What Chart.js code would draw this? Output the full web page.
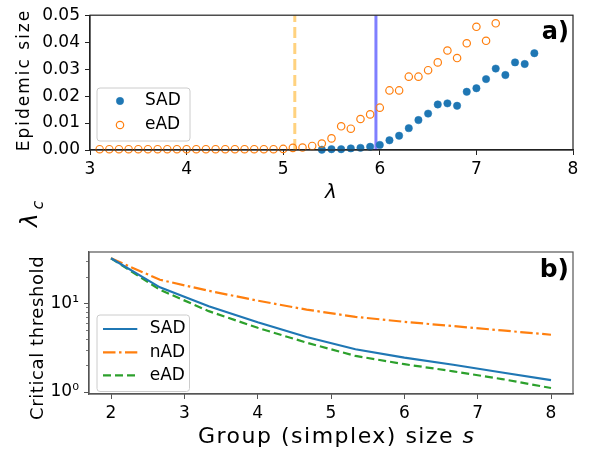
<!DOCTYPE html>
<html><head><meta charset="utf-8">
<script src="https://cdn.jsdelivr.net/npm/chart.js@4.4.1/dist/chart.umd.min.js"></script>
<style>
html,body{margin:0;padding:0;background:#fff;width:601px;height:455px;overflow:hidden;position:relative}
canvas{position:absolute;left:0}
#c1{top:0}
#c2{top:190px}
</style></head><body>
<canvas id="c1" width="601" height="205"></canvas>
<canvas id="c2" width="601" height="265"></canvas>
<script>
// ---------- Panel a) data ----------
const lambdaSAD = [5.4,5.5,5.6,5.7,5.8,5.9,6.0,6.1,6.2,6.3,6.4,6.5,6.6,6.7,6.8,6.9,7.0,7.1,7.2,7.3,7.4,7.5,7.6];
const epidemicSAD = [0.0001,0.0003,0.0003,0.0006,0.0008,0.0012,0.0019,0.0036,0.0053,0.0081,0.0111,0.0135,0.0169,0.0173,0.0164,0.0216,0.0229,0.0263,0.0302,0.0278,0.0325,0.0319,0.0359];
const lambdaEAD = [3.1,3.2,3.3,3.4,3.5,3.6,3.7,3.8,3.9,4.0,4.1,4.2,4.3,4.4,4.5,4.6,4.7,4.8,4.9,5.0,5.1,5.2,5.3,5.4,5.5,5.6,5.7,5.8,5.9,6.0,6.1,6.2,6.3,6.4,6.5,6.6,6.7,6.8,6.9,7.0,7.1,7.2];
const epidemicEAD = [0.0003,0.0003,0.0003,0.0003,0.0003,0.0003,0.0003,0.0003,0.0003,0.0003,0.0003,0.0003,0.0003,0.0003,0.0003,0.0003,0.0003,0.0003,0.0003,0.0004,0.0008,0.0009,0.0015,0.0024,0.0043,0.0088,0.0079,0.0115,0.0132,0.0157,0.0221,0.0221,0.0272,0.0272,0.0296,0.0325,0.0369,0.0341,0.0396,0.0457,0.0405,0.0470];
const thresholdSAD = 5.96;
const thresholdEAD = 5.12;
const topXTicks = [3,4,5,6,7,8];
const topYTicks = [0,0.01,0.02,0.03,0.04,0.05];

// ---------- Panel b) data ----------
const groupSize = [2,2.667,3.333,4,4.667,5.333,6,6.667,7.333,8];
const criticalSAD = [32.1,15.1,9.25,6.1,4.17,3.03,2.44,2.03,1.66,1.36];
const criticalNAD = [32.1,18.4,13.8,10.7,8.48,7.03,6.18,5.53,4.94,4.42];
const criticalEAD = [32.1,14.2,8.15,5.29,3.6,2.55,2.06,1.71,1.40,1.11];
const bottomXTicks = [2,3,4,5,6,7,8];
const bottomYMajor = [1,10];
const bottomYMajorLabels = ['10\u2070','10\u00B9'];
const bottomYMinor = [2,3,4,5,6,7,8,9,20,30];

const FAM = "'DejaVu Sans'";
const BLUE = '#1f77b4', ORANGE = '#ff7f0e', GREEN = '#2ca02c';

function txt(ctx, o){
  ctx.save();
  ctx.font = o.font; ctx.fillStyle = o.color || '#000';
  ctx.letterSpacing = o.ls || '0px';
  ctx.textAlign = o.align || 'left';
  ctx.textBaseline = o.baseline || 'alphabetic';
  ctx.translate(o.x, o.y);
  if (o.rot) ctx.rotate(o.rot);
  ctx.fillText(o.text, 0, 0);
  let w = ctx.measureText(o.text).width;
  ctx.restore();
  if (o.after) {
    ctx.save(); ctx.font = o.font; ctx.letterSpacing = o.ls || '0px';
    ctx.restore();
    txt(ctx, Object.assign({}, o.after, {x: o.x + w + (o.after.dx || 0), y: o.y}));
  }
}
function rrect(ctx,x,y,w,h,r){
  ctx.beginPath();
  ctx.moveTo(x+r,y);ctx.lineTo(x+w-r,y);ctx.quadraticCurveTo(x+w,y,x+w,y+r);
  ctx.lineTo(x+w,y+h-r);ctx.quadraticCurveTo(x+w,y+h,x+w-r,y+h);
  ctx.lineTo(x+r,y+h);ctx.quadraticCurveTo(x,y+h,x,y+h-r);
  ctx.lineTo(x,y+r);ctx.quadraticCurveTo(x,y,x+r,y);ctx.closePath();
}

const decorPlugin = {
  id: 'decor',
  afterDraw(chart, args, o){
    const ctx = chart.ctx, a = chart.chartArea;
    ctx.save();
    ctx.strokeStyle = o.frameColor; ctx.lineWidth = 1.2;
    ctx.strokeRect(a.left, a.top, a.right - a.left, a.bottom - a.top);
    ctx.restore();
    if (o.minor) {
      const ys = chart.scales.y;
      ctx.save(); ctx.strokeStyle = o.frameColor; ctx.lineWidth = 0.8;
      o.minor.forEach(v => {
        const py = Math.round(ys.getPixelForValue(v)) + 0.5;
        ctx.beginPath(); ctx.moveTo(a.left - 3, py); ctx.lineTo(a.left, py); ctx.stroke();
      });
      ctx.restore();
    }
    const L = o.legend;
    ctx.save();
    rrect(ctx, a.left + L.x, a.bottom + L.y, L.w, L.h, 3);
    ctx.fillStyle = 'rgba(255,255,255,0.8)'; ctx.fill();
    ctx.strokeStyle = '#cccccc'; ctx.lineWidth = 1; ctx.stroke();
    ctx.restore();
    L.rows.forEach((r) => {
      const ds = chart.data.datasets[r.ds];
      const y = a.bottom + r.y;
      ctx.save();
      if (L.kind === 'marker') {
        ctx.beginPath();
        ctx.arc(a.left + L.mx, y, ds.pointRadius, 0, Math.PI * 2);
        ctx.fillStyle = ds.pointBackgroundColor; ctx.fill();
        ctx.strokeStyle = ds.pointBorderColor; ctx.lineWidth = ds.pointBorderWidth; ctx.stroke();
      } else {
        ctx.beginPath();
        ctx.setLineDash(ds.borderDash || []);
        ctx.strokeStyle = ds.borderColor; ctx.lineWidth = ds.borderWidth;
        ctx.moveTo(a.left + L.l1, y); ctx.lineTo(a.left + L.l2, y); ctx.stroke();
      }
      ctx.restore();
      txt(ctx, {text: ds.label, font: '17px ' + FAM, x: a.left + L.tx, y: y, baseline: 'middle'});
    });
    txt(ctx, {text: o.tag, font: 'bold ' + o.tagSize + 'px ' + FAM, x: a.right - 4, y: a.top + o.tagY, align: 'right'});
    o.titles.forEach(t => txt(ctx, t));
  }
};

const tickFont = {family: 'DejaVu Sans', size: 17};

// ---------- Chart a) ----------
new Chart(document.getElementById('c1'), {
  type: 'scatter',
  data: {
    datasets: [
      {label: 'eAD', data: lambdaEAD.map((x,i)=>({x, y: epidemicEAD[i]})), pointRadius: 3.7, pointBackgroundColor: 'rgba(255,255,255,0)', pointBorderColor: ORANGE, pointBorderWidth: 1.2, clip: false, order: 0},
      {label: 'SAD', data: lambdaSAD.map((x,i)=>({x, y: epidemicSAD[i]})), pointRadius: 3.7, pointBackgroundColor: BLUE, pointBorderColor: BLUE, pointBorderWidth: 0.5, clip: false, order: 1},
      {label: 'thrE', data: [{x: thresholdEAD, y: topYTicks[0]}, {x: thresholdEAD, y: topYTicks[topYTicks.length-1]}], showLine: true, pointRadius: 0, borderColor: 'rgba(255,165,0,0.5)', borderWidth: 3, borderDash: [11,5], order: 3},
      {label: 'thrS', data: [{x: thresholdSAD, y: topYTicks[0]}, {x: thresholdSAD, y: topYTicks[topYTicks.length-1]}], showLine: true, pointRadius: 0, borderColor: 'rgba(0,0,255,0.5)', borderWidth: 3, order: 2}
    ]
  },
  options: {
    responsive: false, animation: false, devicePixelRatio: 1,
    layout: {padding: {top: 6, right: 28, left: 0, bottom: 0}},
    plugins: {
      legend: {display: false}, tooltip: {enabled: false},
      decor: {
        frameColor: '#222',
        legend: {kind: 'marker', x: 7, y: -62, w: 93, h: 53, mx: 30, tx: 55, rows: [{ds: 1, y: -49}, {ds: 0, y: -25}]},
        tag: 'a)', tagSize: 24, tagY: 24,
        titles: [
          {text: 'Epidemic size', font: '17px ' + FAM, ls: '2px', x: 28.5, y: 80, rot: -Math.PI/2, align: 'center'},
          {text: '\u03BB', font: 'italic 20px ' + FAM, x: 331, y: 198, align: 'center'}
        ]
      }
    },
    scales: {
      x: {
        type: 'linear', min: topXTicks[0], max: topXTicks[topXTicks.length-1],
        afterBuildTicks: s => { s.ticks = topXTicks.map(v => ({value: v})); },
        afterFit: s => { s.height = 55; },
        grid: {drawOnChartArea: false, tickLength: 5, tickColor: '#222'},
        border: {color: '#222', width: 1.2},
        ticks: {font: tickFont, color: '#000', padding: 4, maxRotation: 0, autoSkip: false}
      },
      y: {
        min: topYTicks[0], max: topYTicks[topYTicks.length-1],
        afterBuildTicks: s => { s.ticks = topYTicks.map(v => ({value: v})); },
        afterFit: s => { s.width = 90; },
        grid: {drawOnChartArea: false, tickLength: 5, tickColor: '#222'},
        border: {color: '#222', width: 1.2},
        ticks: {font: tickFont, color: '#000', padding: 5, autoSkip: false, callback: v => v.toFixed(2)}
      }
    }
  },
  plugins: [decorPlugin]
});

// ---------- Chart b) ----------
new Chart(document.getElementById('c2'), {
  type: 'line',
  data: {
    datasets: [
      {label: 'SAD', data: groupSize.map((x,i)=>({x, y: criticalSAD[i]})), borderColor: BLUE, borderWidth: 2.2, pointRadius: 0, tension: 0},
      {label: 'nAD', data: groupSize.map((x,i)=>({x, y: criticalNAD[i]})), borderColor: ORANGE, borderWidth: 2.2, borderDash: [12.5,3.5,2.5,3.5], pointRadius: 0, tension: 0},
      {label: 'eAD', data: groupSize.map((x,i)=>({x, y: criticalEAD[i]})), borderColor: GREEN, borderWidth: 2.2, borderDash: [8,4], pointRadius: 0, tension: 0}
    ]
  },
  options: {
    responsive: false, animation: false, devicePixelRatio: 1,
    layout: {padding: {top: 62, right: 28, left: 0, bottom: 0}},
    plugins: {
      legend: {display: false}, tooltip: {enabled: false},
      decor: {
        frameColor: '#555',
        minor: bottomYMinor,
        legend: {kind: 'line', x: 8, y: -79, w: 92.5, h: 76.5, l1: 14, l2: 48.3, tx: 60.7, rows: [{ds: 0, y: -65}, {ds: 1, y: -41.7}, {ds: 2, y: -18.7}]},
        tag: 'b)', tagSize: 25, tagY: 24.5,
        titles: [
          {text: 'Critical threshold', font: '18px ' + FAM, ls: '0.6px', x: 43.3, y: 230, rot: -Math.PI/2, align: 'left'},
          {text: '\u03BB', font: 'italic 23px ' + FAM, x: 36.7, y: 37, rot: -Math.PI/2, align: 'left'},
          {text: 'c', font: 'italic 16px ' + FAM, x: 42.7, y: 19.5, rot: -Math.PI/2, align: 'left'},
          {text: 'Group (simplex) size ', font: '22px ' + FAM, ls: '1.5px', x: 198, y: 253, align: 'left',
           after: {text: 's', font: 'italic 22px ' + FAM, dx: 0}}
        ]
      }
    },
    scales: {
      x: {
        type: 'linear', min: 1.7, max: 8.3,
        afterBuildTicks: s => { s.ticks = bottomXTicks.map(v => ({value: v})); },
        afterFit: s => { s.height = 61; },
        grid: {drawOnChartArea: false, tickLength: 5, tickColor: '#555'},
        border: {color: '#555', width: 1.2},
        ticks: {font: tickFont, color: '#000', padding: 4, maxRotation: 0, autoSkip: false}
      },
      y: {
        type: 'logarithmic', min: 0.95, max: 37.8,
        afterBuildTicks: s => { s.ticks = bottomYMajor.map(v => ({value: v, major: true})); },
        afterFit: s => { s.width = 89; },
        grid: {drawOnChartArea: false, tickLength: 5, tickColor: '#555'},
        border: {color: '#555', width: 1.2},
        ticks: {font: tickFont, color: '#000', padding: 5, autoSkip: false,
          callback: v => { const i = bottomYMajor.indexOf(v); return i >= 0 ? bottomYMajorLabels[i] : ''; }}
      }
    }
  },
  plugins: [decorPlugin]
});
</script>
</body></html>
